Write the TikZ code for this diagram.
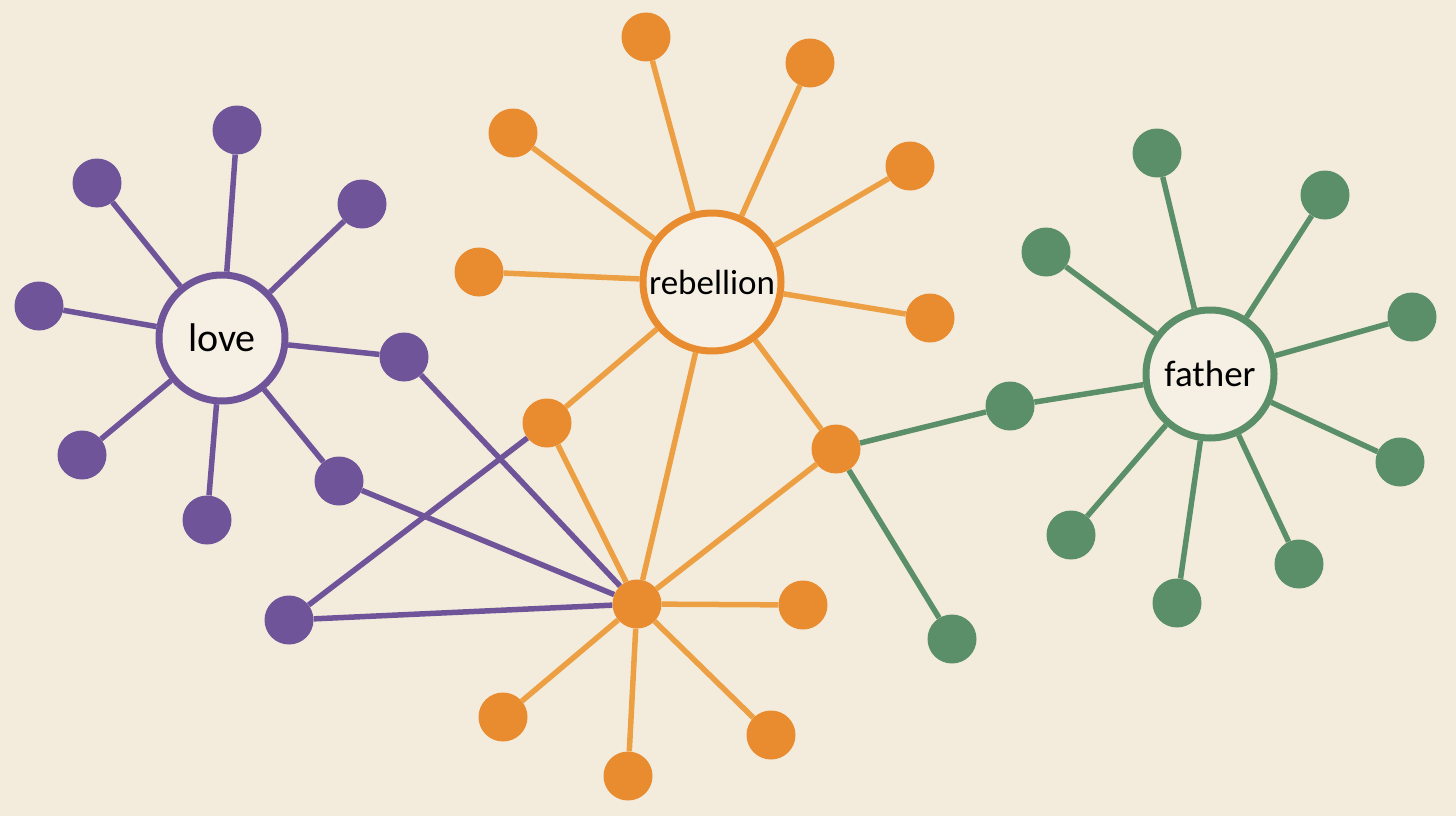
\documentclass[tikz,border=0pt]{standalone}
\usepackage{fontspec}
\setmainfont{Carlito}
\usetikzlibrary{backgrounds}
\definecolor{bgc}{HTML}{F3ECDD}
\definecolor{hubfill}{HTML}{F6F0E4}
\definecolor{purp}{HTML}{6F5499}
\definecolor{orng}{HTML}{E98B2F}
\definecolor{orl}{HTML}{EDA043}
\definecolor{grn}{HTML}{5B8F69}
\begin{document}
\begin{tikzpicture}[x=1pt,y=-1pt,
  leaf/.style={circle,minimum size=49pt,inner sep=0pt,fill=#1},
  hub/.style={circle,inner sep=0pt,line width=7pt,fill=hubfill},
  pl/.style={draw=purp,line width=5.5pt},
  ol/.style={draw=orl,line width=5.5pt},
  gl/.style={draw=grn,line width=5.5pt}]
\useasboundingbox (0,0) rectangle (1456,816);
% love
\node[hub,draw=purp,minimum size=126pt,font=\fontsize{40}{44}\selectfont] (love) at (222,338) {love};
\node[leaf=purp] (p1) at (237,130) {};
\node[leaf=purp] (p2) at (97,183) {};
\node[leaf=purp] (p3) at (362,204) {};
\node[leaf=purp] (p4) at (39,306) {};
\node[leaf=purp] (p5) at (404,357) {};
\node[leaf=purp] (p6) at (82,455) {};
\node[leaf=purp] (p7) at (207,520) {};
\node[leaf=purp] (p8) at (339,481) {};
\node[leaf=purp] (p9) at (289,620) {};
% rebellion
\node[hub,draw=orng,minimum size=138pt,font=\fontsize{35}{40}\selectfont] (reb) at (712,282) {rebellion};
\node[leaf=orng] (o1) at (646,37) {};
\node[leaf=orng] (o2) at (810,63) {};
\node[leaf=orng] (o3) at (513,133) {};
\node[leaf=orng] (o4) at (910,166) {};
\node[leaf=orng] (o5) at (479,272) {};
\node[leaf=orng] (o6) at (930,318) {};
\node[leaf=orng] (o7) at (547,423) {};
\node[leaf=orng] (o8) at (836,449) {};
\node[leaf=orng] (oc) at (637,604) {};
\node[leaf=orng] (o9) at (803,605) {};
\node[leaf=orng] (o10) at (771,735) {};
\node[leaf=orng] (o11) at (628,776) {};
\node[leaf=orng] (o12) at (503,717) {};
% father
\node[hub,draw=grn,minimum size=128pt,font=\fontsize{37}{42}\selectfont] (fat) at (1210,374) {father};
\node[leaf=grn] (g1) at (1157,153) {};
\node[leaf=grn] (g2) at (1325,195) {};
\node[leaf=grn] (g3) at (1046,252) {};
\node[leaf=grn] (g4) at (1412,317) {};
\node[leaf=grn] (g5) at (1010,406) {};
\node[leaf=grn] (g6) at (1400,462) {};
\node[leaf=grn] (g7) at (1071,535) {};
\node[leaf=grn] (g8) at (1299,564) {};
\node[leaf=grn] (g9) at (1177,603) {};
\node[leaf=grn] (g10) at (952,639) {};
\begin{pgfonlayer}{background}
\fill[bgc] (0,0) rectangle (1456,816);
\foreach \n in {o1,o2,o3,o4,o5,o6,o7,o8,oc} \draw[ol] (reb) -- (\n);
\foreach \n in {o9,o10,o11,o12,o7,o8} \draw[ol] (oc) -- (\n);
\foreach \n in {p1,p2,p3,p4,p5,p6,p7,p8} \draw[pl] (love) -- (\n);
\draw[pl] (p5) -- (oc);
\draw[pl] (p8) -- (oc);
\draw[pl] (p9) -- (oc);
\draw[pl] (p9) -- (o7);
\foreach \n in {g1,g2,g3,g4,g5,g6,g7,g8,g9} \draw[gl] (fat) -- (\n);
\draw[gl] (o8) -- (g5);
\draw[gl] (o8) -- (g10);
\end{pgfonlayer}
\end{tikzpicture}
\end{document}
